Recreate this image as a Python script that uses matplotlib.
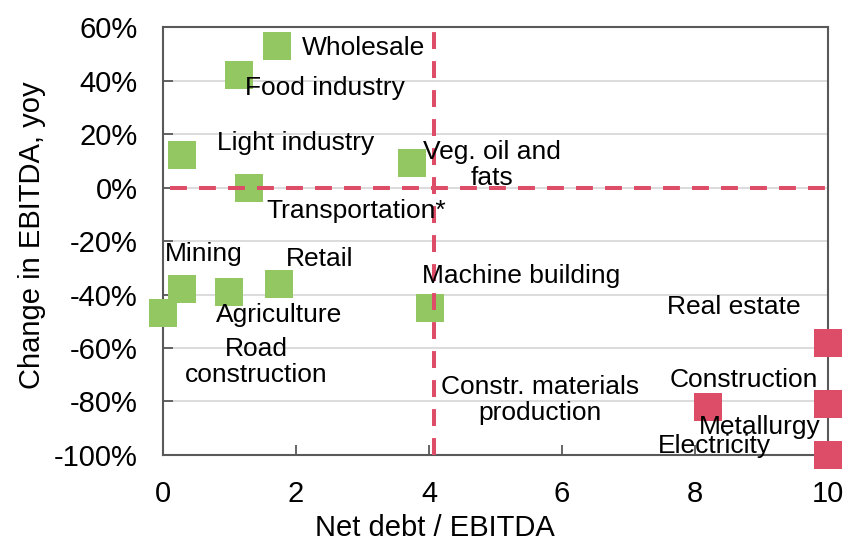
import matplotlib.pyplot as plt
from matplotlib.ticker import PercentFormatter

plt.rcParams['font.family'] = ['Liberation Sans', 'DejaVu Sans']
plt.rcParams['axes.unicode_minus'] = False

# sectors: net debt / EBITDA and EBITDA change yoy
green_names = ['Wholesale', 'Food industry', 'Light industry', 'Transportation*',
               'Veg. oil and\nfats', 'Mining', 'Road\nconstruction', 'Agriculture',
               'Retail', 'Machine building', 'Constr. materials\nproduction']
green_x = [1.71, 1.14, 0.29, 1.30, 3.75, 0.29, 0.0, 1.0, 1.74, 4.02, 10.0]
green_y = [0.53, 0.42, 0.12, 0.0, 0.09, -0.38, -0.47, -0.39, -0.36, -0.45, -1.0]

red_names = ['Real estate', 'Construction', 'Metallurgy', 'Electricity']
red_x = [10.0, 10.0, 8.19, 10.0]
red_y = [-0.58, -0.81, -0.82, -1.0]

debt_threshold = 4.07

# where each data label sits (x, y in data units)
label_pos = {
    'Wholesale': (3.02, 0.522), 'Food industry': (2.44, 0.372),
    'Light industry': (1.99, 0.167), 'Veg. oil and\nfats': (4.95, 0.085),
    'Transportation*': (2.90, -0.087), 'Mining': (0.62, -0.248),
    'Retail': (2.36, -0.266), 'Machine building': (5.38, -0.33),
    'Agriculture': (1.75, -0.475), 'Road\nconstruction': (1.40, -0.651),
    'Real estate': (8.59, -0.445), 'Construction': (8.73, -0.718),
    'Constr. materials\nproduction': (5.67, -0.795), 'Metallurgy': (8.98, -0.897),
    'Electricity': (8.30, -0.968),
}

green = '#92C761'
red = '#DE4D67'
spine = '#595959'

fig = plt.figure(figsize=(8.44, 5.47), dpi=100)
ax = fig.add_axes([0.1931, 0.1682, 0.7879, 0.7824])

ax.plot(green_x, green_y, 's', color=green, markersize=19.5, mew=0,
        clip_on=False, zorder=3)
ax.plot(red_x, red_y, 's', color=red, markersize=19.5, mew=0,
        clip_on=False, zorder=4)

h = ax.axhline(0, xmin=0.01, xmax=1, color=red, lw=2.9, zorder=5)
v = ax.axvline(debt_threshold, color=red, lw=2.9, zorder=5)
h.set_dashes((4.2, 3.0))
v.set_dashes((4.2, 3.0))

for name in green_names + red_names:
    x, y = label_pos[name]
    ax.text(x, y, name, ha='center', va='center', fontsize=19,
            linespacing=1.1, color='black', zorder=6)

ax.set_xlim(0, 10)
ax.set_ylim(-1.0, 0.6)
ax.set_xticks([0, 2, 4, 6, 8, 10])
ax.set_yticks([-1.0, -0.8, -0.6, -0.4, -0.2, 0, 0.2, 0.4, 0.6])
ax.yaxis.set_major_formatter(PercentFormatter(1.0, decimals=0))
ax.grid(axis='y', color='#D9D9D9', lw=1.3, zorder=0)
ax.set_axisbelow(True)

for s in ax.spines.values():
    s.set_color(spine)
    s.set_linewidth(1.5)
ax.tick_params(axis='both', direction='in', length=7, width=1.3, color=spine,
               labelsize=21, pad=18)

ax.set_xlabel('Net debt / EBITDA', fontsize=21)
ax.xaxis.set_label_coords(0.409, -0.138)
ax.set_ylabel('Change in EBITDA, yoy', fontsize=21)
ax.yaxis.set_label_coords(-0.176, 0.514)

fig.savefig('out.png', dpi=100)
